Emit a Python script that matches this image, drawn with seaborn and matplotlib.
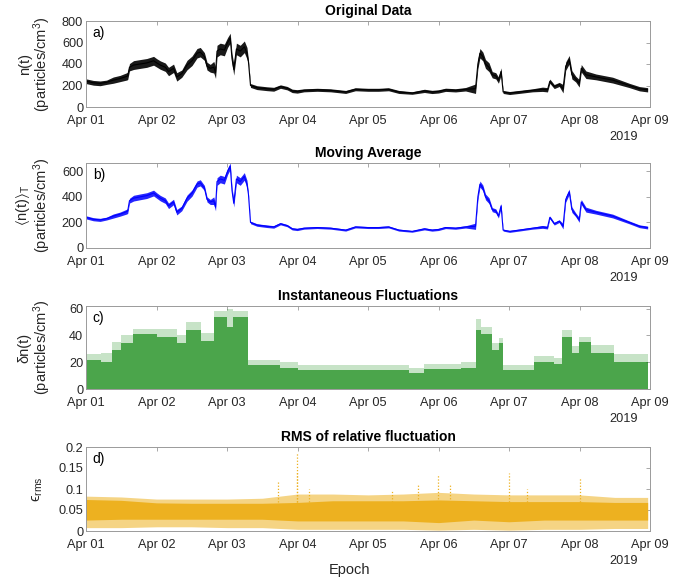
import numpy as np
import pandas as pd
import matplotlib
matplotlib.use("Agg")
import matplotlib.pyplot as plt
import seaborn as sns

# ---------------- data (hours since 2019-04-01 00:00) ----------------
a_hours = [0, 2.5, 4.8, 7, 9.3, 11.6, 13.9, 14.2, 14.8, 16.2, 18.4, 20.7, 23, 24.1, 25.3, 27, 28.1,
           29.8, 30.9, 32.6, 34.4, 36.1, 37.8, 38.9, 40.3, 41.2, 42.3, 43.5, 44.1, 44.6, 45.7, 47.1,
           48.2, 49.1, 49.7, 50.3, 51.2, 52.5, 53.9, 54.8, 55.3, 56, 58.2, 61.6, 63.9, 66.2, 68.5,
           70.2, 71.9, 74.2, 78.7, 83.3, 88.4, 91.7, 96, 99.6, 103, 106.5, 111, 115.2, 117.8, 120,
           122.4, 125.8, 129.2, 132.6, 133.4, 134.1, 135.1, 136, 137.2, 138.3, 139.5, 140.4, 141.3,
           142, 144.2, 147.4, 152, 155.4, 157.1, 157.9, 159.4, 161.1, 162.4, 163.3, 164.5, 165.4,
           166.7, 167.9, 168.6, 170.2, 173.6, 179.3, 185, 188.4, 191.2]
n_values = [240, 225, 220, 230, 250, 265, 285, 290, 370, 390, 400, 410, 430, 410, 390, 370, 330,
            360, 280, 310, 390, 430, 500, 510, 470, 380, 360, 370, 320, 520, 540, 530,
            600, 640, 450, 350, 540, 520, 560, 500, 420, 200, 180, 170, 165, 190, 175,
            150, 145, 155, 160, 155, 140, 165, 160, 160, 165, 140, 130, 150, 140, 145,
            160, 155, 165, 170, 400, 500, 470, 400, 370, 300, 290, 250, 330,
            140, 130, 140, 155, 165, 160, 240, 190, 210, 170, 380, 440, 300,
            260, 220, 360, 300, 280, 250, 200, 170, 160]

# fluctuation envelope (segment start hours, dense top, sparse top)
c_hours = [0, 5, 9, 12, 16, 24, 31, 34, 39, 43.5, 48, 50, 55.3, 66, 72, 110, 115, 127.5, 132.6,
           134.3, 138.3, 140.6, 141.8, 152.5, 159.4, 162.2, 165.6, 167.9, 171.9, 179.9, 191.2]
c_dense = [22, 20, 29, 34, 41, 39, 34, 44, 36, 54, 46, 54, 18, 16, 14, 12, 15, 16, 44,
           41, 29, 34, 14, 20, 19, 39, 27, 35, 27, 20, 20]
c_sparse = [26, 27, 35, 40, 45, 45, 40, 50, 42, 58, 60, 58, 22, 20, 18, 16, 19, 20, 52,
            46, 34, 38, 18, 25, 23, 44, 32, 39, 33, 26, 26]

# RMS of relative fluctuation band
d_hours = [0, 12, 24, 36, 48, 60, 72, 84, 96, 108, 120, 132, 144, 156, 168, 180, 191.2]
d_top = [0.075, 0.073, 0.067, 0.066, 0.066, 0.066, 0.068, 0.072, 0.072, 0.072, 0.074, 0.072,
         0.070, 0.070, 0.070, 0.068, 0.068]
d_bot = [0.026, 0.028, 0.028, 0.028, 0.028, 0.028, 0.024, 0.024, 0.024, 0.024, 0.020, 0.026,
         0.022, 0.026, 0.026, 0.026, 0.026]
d_hi = [0.083, 0.081, 0.076, 0.076, 0.076, 0.078, 0.088, 0.088, 0.086, 0.088, 0.092, 0.088,
        0.086, 0.086, 0.086, 0.080, 0.080]
d_lo = [0.008, 0.008, 0.010, 0.010, 0.008, 0.008, 0.004, 0.004, 0.004, 0.004, 0.002, 0.004,
        0.002, 0.004, 0.004, 0.006, 0.006]
d_spike_hours = [65.5, 71.8, 71.8, 76, 104, 113, 119.7, 124, 143.9, 150, 168]
d_spike_vals = [0.12, 0.185, 0.14, 0.10, 0.095, 0.11, 0.135, 0.11, 0.138, 0.10, 0.128]

x_tick_labels = ["Apr 01", "Apr 02", "Apr 03", "Apr 04", "Apr 05", "Apr 06", "Apr 07", "Apr 08", "Apr 09"]
titles = ["Original Data", "Moving Average", "Instantaneous Fluctuations", "RMS of relative fluctuation"]
panel_tags = ["a)", "b)", "c)", "d)"]

# ---------------- style ----------------
sns.set_theme(style="white")
plt.rcParams["font.family"] = ["Liberation Sans", "DejaVu Sans"]
plt.rcParams["mathtext.fontset"] = "custom"
plt.rcParams["mathtext.rm"] = "Liberation Sans"
plt.rcParams["mathtext.it"] = "Liberation Sans:italic"
plt.rcParams["mathtext.fallback"] = "stixsans"

TXT = "#262626"
EDGE = "#9a9a9a"
t0 = pd.Timestamp("2019-04-01")


def to_time(h):
    return t0 + pd.to_timedelta(np.asarray(h, dtype=float), unit="h")


fig = plt.figure(figsize=(6.91, 5.79), dpi=100)
W, H = 691.0, 579.0
L, R = 86, 650
boxes = [(21, 107), (163, 248), (306, 389), (447, 531)]
axes = []
for top, bot in boxes:
    axes.append(fig.add_axes([L / W, 1 - bot / H, (R - L) / W, (bot - top) / H]))

# noise half-width for a and b from the fluctuation envelope
idx = np.clip(np.searchsorted(c_hours, a_hours, side="right") - 1, 0, len(c_dense) - 1)
noise = np.array(c_dense, dtype=float)[idx]
n_arr = np.array(n_values, dtype=float)
df_n = pd.DataFrame({"time": to_time(a_hours), "n": n_arr})

# a) original
ax = axes[0]
ax.fill_between(df_n["time"], n_arr - noise, n_arr + noise, color="black", lw=0, alpha=0.9)
sns.lineplot(data=df_n, x="time", y="n", ax=ax, color="black", lw=0.8)
ax.set_ylim(0, 800)
ax.set_yticks([0, 200, 400, 600, 800])
ax.set_ylabel("n(t)\n(particles/cm$^3$)")

# b) moving average
ax = axes[1]
ax.fill_between(df_n["time"], n_arr - 0.55 * noise, n_arr + 0.55 * noise, color="#0000FF", lw=0, alpha=0.85)
sns.lineplot(data=df_n, x="time", y="n", ax=ax, color="#0000FF", lw=0.8)
ax.set_ylim(0, 665)
ax.set_yticks([0, 200, 400, 600])
ax.set_ylabel("$\\langle$n(t)$\\rangle_{\\mathrm{T}}$\n(particles/cm$^3$)")

# c) fluctuations
ax = axes[2]
ct = to_time(c_hours)
cd = np.array(c_dense, dtype=float)
cs = np.array(c_sparse, dtype=float)
ax.fill_between(ct, 0, cs, step="post", color="#008000", lw=0, alpha=0.22)
ax.fill_between(ct, 0, cd, step="post", color="#008000", lw=0, alpha=0.62)
ax.set_ylim(0, 62)
ax.set_yticks([0, 20, 40, 60])
ax.set_ylabel("δn(t)\n(particles/cm$^3$)")

# d) RMS
ax = axes[3]
dt = to_time(d_hours)
ax.fill_between(dt, d_lo, d_hi, color="#EDB120", lw=0, alpha=0.55)
ax.fill_between(dt, d_bot, d_top, color="#EDB120", lw=0, alpha=1.0)
spk = pd.DataFrame({"time": to_time(d_spike_hours), "v": d_spike_vals})
ax.vlines(spk["time"], 0.07, spk["v"], color="#EDB120", lw=0.9, linestyles=(0, (1, 1.5)))
ax.set_ylim(0, 0.2)
ax.set_yticks([0, 0.05, 0.1, 0.15, 0.2])
ax.set_yticklabels(["0", "0.05", "0.1", "0.15", "0.2"])
ax.set_ylabel("ϵ$_{\\mathrm{rms}}$")
ax.set_xlabel("Epoch", fontsize=10.5, color=TXT)
ax.xaxis.set_label_coords(0.468, -0.38)

ticks = pd.date_range("2019-04-01", "2019-04-09", freq="D")
label_x = [-0.058, -0.058, -0.058, -0.072]
for i, ax in enumerate(axes):
    ax.set_xlim(ticks[0], ticks[-1])
    ax.set_xticks(ticks)
    ax.set_xticklabels(x_tick_labels)
    if i != 3:
        ax.set_xlabel("")
    ax.tick_params(axis="both", which="both", direction="in", top=True, right=True,
                   length=3, width=0.6, color=EDGE, labelsize=9.2, labelcolor=TXT, pad=2)
    ax.tick_params(axis="x", pad=6)
    for s in ax.spines.values():
        s.set_color(EDGE)
        s.set_linewidth(0.7)
        s.set_visible(True)
    ax.set_title(titles[i], fontweight="bold", fontsize=10, color="black", pad=4)
    ax.yaxis.label.set_size(10.5)
    ax.yaxis.label.set_color(TXT)
    ax.yaxis.label.set_linespacing(1.0)
    ax.yaxis.set_label_coords(label_x[i], 0.5)
    ax.text(0.012, 0.86, panel_tags[i], transform=ax.transAxes, fontsize=10,
            color="black", va="center", ha="left")
    ax.annotate("2019", xy=(0.979, 0), xycoords="axes fraction", xytext=(0, -21.5),
                textcoords="offset points", ha="right", va="center", fontsize=9.2, color=TXT)
    ax.grid(False)

fig.savefig("out.png", dpi=100)
